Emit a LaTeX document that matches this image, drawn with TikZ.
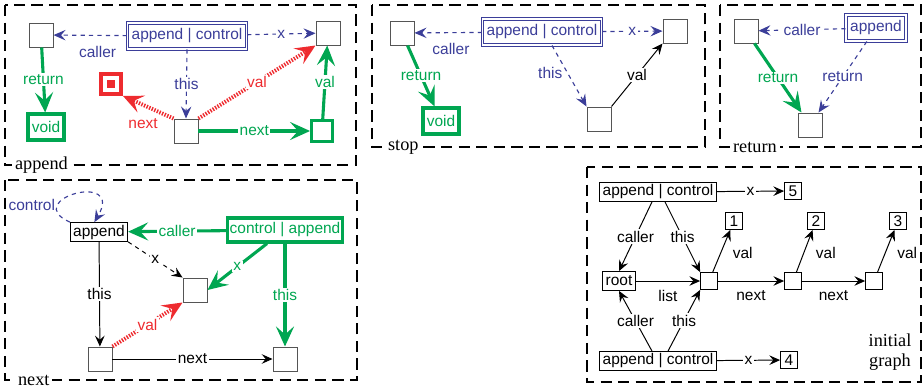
\documentclass[tikz,border=0pt]{standalone}
\usepackage{fontspec}
\setmainfont{Liberation Serif}
\setsansfont{Liberation Sans}
\usetikzlibrary{arrows.meta,calc,positioning}
\definecolor{ablue}{HTML}{3B3E99}
\definecolor{agreen}{HTML}{00A651}
\definecolor{ared}{HTML}{EE2B2F}
\definecolor{cellgray}{HTML}{555555}
\tikzset{
  frame/.style={draw, line width=1.3pt, dash pattern=on 8pt off 4.5pt},
  title/.style={fill=white, font=\rmfamily\fontsize{13}{14}\selectfont, inner sep=2pt},
  cell/.style={draw=cellgray, line width=0.7pt, minimum size=6mm, inner sep=0pt},
  tag/.style={draw, line width=0.7pt, minimum size=4.2mm, inner sep=1pt},
  gcell/.style={draw=agreen, text=agreen, line width=2.2pt, minimum size=5.2mm, inner sep=0pt},
  voidbox/.style={gcell, minimum width=9mm, minimum height=6.5mm},
  redbox/.style={draw=ared, line width=2.6pt, minimum size=5mm, inner sep=0pt},
  callbox/.style={draw=ablue, text=ablue, double=white, double distance=1.3pt, line width=0.7pt, minimum height=6.5mm, inner xsep=3pt},
  namebox/.style={draw, line width=0.7pt, minimum height=4.7mm, inner xsep=2pt, inner ysep=1pt},
  gbox/.style={draw=agreen, text=agreen, line width=2.2pt, minimum height=6mm, inner xsep=1.5pt},
  lbl/.style={fill=white, inner sep=1pt},
  bluelink/.style={ablue, dashed, line width=0.8pt, -{Stealth[length=3mm,width=2.6mm,inset=1.1mm]}},
  greenlink/.style={agreen, line width=2.2pt, -{Stealth[length=5mm,width=4.5mm,inset=2mm]}},
  redlink/.style={ared, line width=2.8pt, dash pattern=on 1pt off 1pt, -{Stealth[length=5mm,width=4.5mm,inset=2mm]}},
  link/.style={line width=0.7pt, -{Stealth[length=2.7mm,width=2.4mm,inset=1mm]}},
}

\begin{document}
\begin{tikzpicture}[x=0.025cm, y=-0.025cm, font=\sffamily\fontsize{11}{13}\selectfont]
\useasboundingbox (0,0) rectangle (924,387);

% append
\draw[frame] (5,5) rectangle (356,165);
\node[title, anchor=west] at (12,165) {append};
\node[cell] (p1caller) at (41,35) {};
\node[callbox] (p1ac) at (187,36) {append | control};
\node[cell] (p1x) at (328,33) {};
\node[voidbox] (p1void) at (46,127) {void};
\node[redbox] (p1red) at (111,84) {};
\node[fill=ared, minimum size=2mm, inner sep=0pt] (p1core) at (p1red) {};
\node[cell] (p1cur) at (186,131) {};
\node[gcell] (p1new) at (322,131) {};

\draw[bluelink] (p1ac) -- node[below=4pt, pos=.4] {caller} (p1caller);
\draw[bluelink] (p1ac) -- node[lbl] {x} (p1x);
\draw[bluelink] (p1ac.south) -- node[lbl] {this} (p1cur.north);
\draw[greenlink] (p1caller) -- node[lbl] {return} (p1void);
\draw[redlink] (p1cur.north west) -- node[below=5pt, pos=.6] {next} (p1red.south east);
\draw[redlink] (p1cur.north east) -- node[lbl] {val} (p1x.south west);
\draw[greenlink] (p1cur) -- node[lbl] {next} (p1new);
\draw[greenlink] (p1new) -- node[lbl] {val} (p1x);

% stop
\draw[frame] (372,5) rectangle (705,147);
\node[title, anchor=west] at (385,147) {stop};
\node[cell] (p2caller) at (402,33) {};
\node[callbox] (p2ac) at (542,32) {append | control};
\node[cell] (p2x) at (675,31) {};
\node[voidbox] (p2void) at (441,121) {void};
\node[cell] (p2cur) at (599,119) {};

\draw[bluelink] (p2ac) -- node[below=4pt, pos=.46] {caller} (p2caller);
\draw[bluelink] (p2ac) -- node[lbl] {x} (p2x);
\draw[bluelink] ($(p2ac.south)+(10,0)$) -- node[left, pos=.45] {this} (p2cur.north west);
\draw[link] (p2cur.north east) -- node[lbl] {val} (p2x.south west);
\draw[greenlink] (p2caller) -- node[lbl] {return} (p2void);

% return
\draw[frame] (720,5) rectangle (921,147);
\node[title, anchor=west] at (730,147) {return};
\node[cell] (p3caller) at (746,31) {};
\node[callbox] (p3ac) at (876,28) {append};
\node[cell] (p3res) at (810,125) {};

\draw[bluelink] (p3ac) -- node[lbl] {caller} (p3caller);
\draw[greenlink] (p3caller) -- node[lbl] {return} (p3res);
\draw[bluelink] (p3ac) -- node[lbl] {return} (p3res);

% next
\draw[frame] (5,180) rectangle (357,380);
\node[title, anchor=west] at (15,380) {next};
\node[namebox] (p4app) at (99,232) {append};
\node[gbox] (p4ca) at (285,230) {control | append};
\node[cell] (p4mid) at (195,290) {};
\node[cell] (p4cur) at (100,359) {};
\node[cell] (p4nxt) at (285,359) {};

\draw[bluelink] (p4app.north west) .. controls (20,200) and (125,170) .. node[pos=.25, anchor=east, inner sep=1pt] {control} (p4app.115);
\draw[greenlink] (p4ca) -- node[lbl] {caller} (p4app);
\draw[link, dashed] (p4app.south east) -- node[lbl] {x} (p4mid.north west);
\draw[greenlink] ($(p4ca.south)+(-18,0)$) -- node[lbl] {x} (p4mid.east);
\draw[link] (p4app) -- node[lbl] {this} (p4cur);
\draw[greenlink] (p4ca.south) -- node[lbl] {this} (p4nxt.north);
\draw[redlink] (p4cur.north east) -- node[lbl] {val} (p4mid.south west);
\draw[link] (p4cur) -- node[lbl] {next} (p4nxt);

% initial graph
\draw[frame] (587,167) rectangle (921,382);
\node[title, fill=none, align=center] (p5title) at (890,352) {initial\\graph};
\node[namebox] (p5top) at (658,192) {append | control};
\node[tag] (p5five) at (793,191) {5};
\node[tag] (p5one) at (734,221) {1};
\node[tag] (p5two) at (816,221) {2};
\node[tag] (p5three) at (898,221) {3};
\node[namebox] (p5root) at (619,281) {root};
\node[tag] (p5a) at (709,281) {};
\node[tag] (p5b) at (793,281) {};
\node[tag] (p5c) at (874,281) {};
\node[namebox] (p5bot) at (658,361) {append | control};
\node[tag] (p5four) at (789,360) {4};

\draw[link] (p5top) -- node[lbl] {x} (p5five);
\draw[link] (p5bot) -- node[lbl] {x} (p5four);
\draw[link] ($(p5top.south)+(-6,0)$) -- node[lbl] {caller} (p5root.north);
\draw[link] ($(p5top.south)+(7,0)$) -- node[lbl] {this} (p5a.north west);
\draw[link] ($(p5bot.north)+(-6,0)$) -- node[lbl] {caller} (p5root.south);
\draw[link] ($(p5bot.north)+(10,0)$) -- node[lbl] {this} (p5a.south west);
\draw[link] (p5root) -- node[below=3pt] {list} (p5a);
\draw[link] (p5a) -- node[below=3pt] {next} (p5b);
\draw[link] (p5b) -- node[below=3pt] {next} (p5c);
\draw[link] (p5a) -- node[right=5pt, pos=.45] {val} (p5one);
\draw[link] (p5b) -- node[right=5pt, pos=.45] {val} (p5two);
\draw[link] (p5c) -- node[right=5pt, pos=.45] {val} (p5three);
\end{tikzpicture}
\end{document}
